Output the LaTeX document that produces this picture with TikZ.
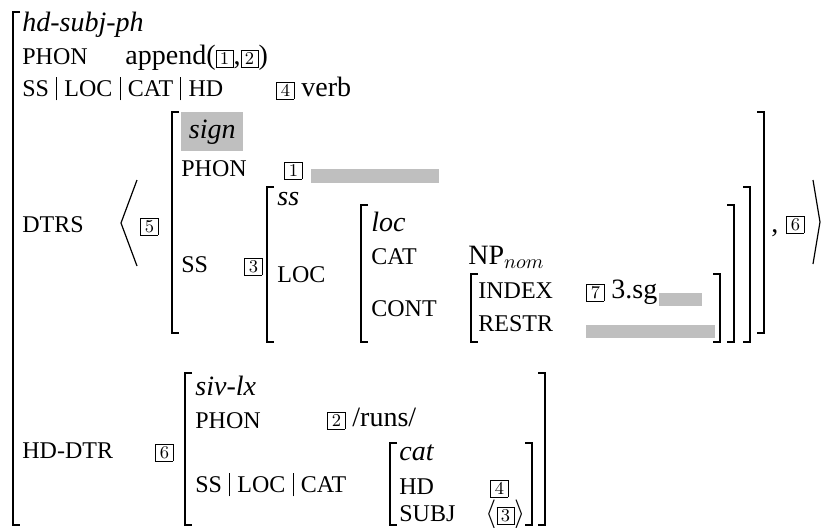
\documentclass[tikz,border=0pt]{standalone}
\usepackage[no-math]{fontspec}
\setmainfont{Liberation Serif}
\usepackage{tikz}
\usetikzlibrary{positioning}

\definecolor{greyfill}{gray}{0.75}
\newcommand{\tagnum}[1]{{\fboxsep=0pt\fboxrule=0.4pt\fbox{\makebox[8.2pt][c]{\rule[-1.4pt]{0pt}{8.2pt}\fontsize{9}{9}\selectfont$#1$}}}}
\newcommand{\pbar}{\hspace{3.6pt}\rule[-2.2pt]{0.5pt}{11.6pt}\hspace{3.6pt}}

\tikzset{
  feat/.style={anchor=base west,inner sep=0pt,font=\fontsize{12}{14}\selectfont},
  val/.style={anchor=base west,inner sep=0pt,font=\fontsize{14}{16}\selectfont},
  typ/.style={anchor=base west,inner sep=0pt,font=\fontsize{14}{16}\selectfont\itshape},
  brk/.style={line width=0.8pt},
  ang/.style={line width=0.6pt},
}

\begin{document}
\begin{tikzpicture}[x=0.5pt,y=-0.5pt,font=\fontsize{14}{16}\selectfont]
\useasboundingbox (0,0) rectangle (821,527);
% outer phrase
\draw[brk] (20,12) -- (13,12) -- (13,525) -- (20,525);
\node[typ] (hdsubj) at (22,31) {hd-subj-ph};
\node[feat] (phon) at (22,64) {PHON};
\node[val] (phonval) at (125,64) {append(\tagnum{1},\tagnum{2})};
\node[feat] (sshd) at (22,96) {SS\pbar LOC\pbar CAT\pbar HD};
\node[val] (hdval) at (276,96) {\tagnum{4} verb};
\node[feat] (dtrs) at (22,232) {DTRS};
\node[feat] (hddtr) at (22,458) {HD-DTR};

% daughters list
\draw[ang] (137,180) -- (121,223) -- (137,266);
\node[val] (t5) at (140,232) {\tagnum{5}};
\draw[brk] (179,112) -- (172,112) -- (172,333) -- (179,333);
\draw[brk] (757,112) -- (764,112) -- (764,333) -- (757,333);
\node[fill=greyfill,anchor=north west,inner xsep=3.75pt,inner ysep=3pt,text height=10pt,text depth=3.5pt,font=\fontsize{14}{16}\selectfont\itshape] (sgn) at (181,112) {sign};
\node[feat] (sphon) at (181,176) {PHON};
\node[val] (t1) at (284,176) {\tagnum{1}};
\fill[greyfill] (311,169) rectangle (439,183);
\node[feat] (sss) at (181,272) {SS};
\node[val] (t3) at (244,272) {\tagnum{3}};
\draw[brk] (274,187) -- (267,187) -- (267,342) -- (274,342);
\draw[brk] (743,187) -- (750,187) -- (750,342) -- (743,342);
\node[typ] (ss) at (277,205) {ss};
\node[feat] (loc) at (277,282) {LOC};
\draw[brk] (368,205) -- (361,205) -- (361,342) -- (368,342);
\draw[brk] (727,205) -- (734,205) -- (734,342) -- (727,342);
\node[typ] (loct) at (371,231) {loc};
\node[feat] (cat) at (371,264) {CAT};
\node[val] (np) at (468,264) {NP$_{nom}$};
\node[feat] (cont) at (371,316) {CONT};
\draw[brk] (478,274) -- (471,274) -- (471,342) -- (478,342);
\draw[brk] (713,274) -- (720,274) -- (720,342) -- (713,342);
\node[feat] (index) at (478,298) {INDEX};
\node[val] (indval) at (586,298) {\tagnum{7} 3.sg};
\fill[greyfill] (659,293) rectangle (702,306);
\node[feat] (restr) at (478,331) {RESTR};
\fill[greyfill] (586,325) rectangle (715,338);
\node[val] (comma) at (771,232) {,};
\node[val] (t6a) at (786,230) {\tagnum{6}};
\draw[ang] (813,180) -- (820,222) -- (813,264);

% head daughter
\node[val] (t6b) at (155,458) {\tagnum{6}};
\draw[brk] (192,373) -- (185,373) -- (185,525) -- (192,525);
\draw[brk] (538,373) -- (545,373) -- (545,525) -- (538,525);
\node[typ] (siv) at (195,395) {siv-lx};
\node[feat] (hphon) at (195,428) {PHON};
\node[val] (runs) at (327,426) {\tagnum{2} /runs/};
\node[feat] (hss) at (195,492) {SS\pbar LOC\pbar CAT};
\draw[brk] (397,443) -- (390,443) -- (390,525) -- (397,525);
\draw[brk] (525,443) -- (532,443) -- (532,525) -- (525,525);
\node[typ] (catt) at (399,460) {cat};
\node[feat] (hhd) at (399,494) {HD};
\node[val] (hdtag) at (490,494) {\tagnum{4}};
\node[feat] (subj) at (399,521) {SUBJ};
\node[val] (subjval) at (485,521) {$\langle$\tagnum{3}$\rangle$};
\end{tikzpicture}
\end{document}
